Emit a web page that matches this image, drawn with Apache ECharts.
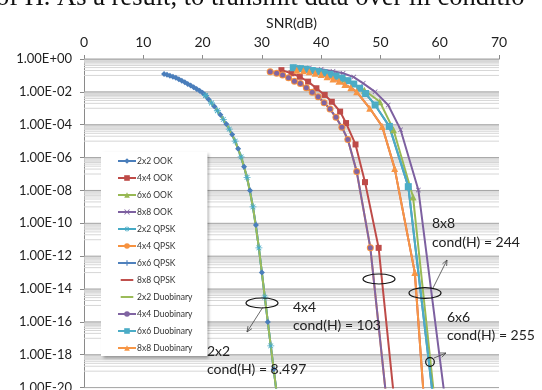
<!DOCTYPE html>
<html>
<head>
<meta charset="utf-8">
<script src="https://cdn.jsdelivr.net/npm/echarts@6/dist/echarts.min.js"></script>
<style>
html, body { margin: 0; padding: 0; background: #fff; }
#chart { width: 542px; height: 390px; }
</style>
</head>
<body>
<div id="chart"></div>
<script>
// BER vs SNR: [SNR (dB), BER]
var ook2x2 = [[13.5,1.23e-1],[14,1.1e-1],[14.5,9.5e-2],[15,8.3e-2],[15.5,7.1e-2],[16,5.9e-2],[16.5,4.8e-2],
    [17,3.8e-2],[17.5,3.0e-2],[18,2.4e-2],[18.5,1.9e-2],[19,1.5e-2],[19.5,1.15e-2],[20,8.9e-3],[20.5,6.0e-3],
    [21,3.5e-3],[22,1.3e-3],[23,4.0e-4],[24,1.1e-4],[25,2.5e-5],[26,3.5e-6],[27,2.8e-7],[28,1.0e-8],
    [29,7.9e-11],[30,1.0e-13],[31,1.0e-16],[32,1.3e-19],[33,1.6e-22]];
var ook4x4 = [[33.3,2.1e-1],[35,1.35e-1],[36.4,8.3e-2],[37.8,4.2e-2],[39.2,1.66e-2],[40.6,6.5e-3],[41.8,2.5e-3],
    [43.2,6.3e-4],[44.2,1.26e-4],[45.8,6.3e-6],[47.4,3.2e-8],[49.7,3.2e-12],[52.4,1e-21]];
var ook6x6 = [[36,2.8e-1],[40,1.7e-1],[44,6.0e-2],[47.3,1.26e-2],[49.9,2.5e-3],[52.2,5.0e-5],[55.5,4.0e-9],[59.2,1e-21]];
var ook8x8 = [[36,3.2e-1],[38,2.8e-1],[40,2.35e-1],[42,1.8e-1],[43.7,1.35e-1],[45.5,7.9e-2],[47.1,3.3e-2],
    [49.1,1.0e-2],[51.3,1.6e-3],[53.4,5.0e-5],[56.4,1.07e-8],[61,1e-21]];
var duo2x2 = [[20.5,6.0e-3],[21.5,2.1e-3],[22.5,7.1e-4],[23.5,2.1e-4],[24.5,5.4e-5],[25.5,1.0e-5],[26.5,1.1e-6],
    [27.5,6.3e-8],[28.5,1.0e-9],[29.5,3.2e-12],[30.5,3.2e-15],[31.5,3.5e-18],[32.5,4.5e-21]];
var duo4x4 = [[31.4,1.7e-1],[32.5,1.38e-1],[33.5,1.07e-1],[34.5,7.1e-2],[35.5,4.5e-2],[36.5,3.2e-2],[37.5,1.8e-2],
    [38.5,9.5e-3],[39.5,5.0e-3],[40.5,2.2e-3],[41.5,8.9e-4],[42.5,2.8e-4],[43.5,7.1e-5],[44.5,1.26e-5],
    [46,1.4e-7],[48.3,3.2e-12],[51.1,1e-21]];
var duo6x6 = [[35.3,2.95e-1],[36.5,2.6e-1],[37.5,2.35e-1],[38.5,2.0e-1],[39.5,1.74e-1],[40.5,1.45e-1],[41.5,1.17e-1],
    [42.5,9.1e-2],[43.5,6.9e-2],[44.5,4.8e-2],[45.5,3.0e-2],[46.5,1.66e-2],[47.5,7.9e-3],[49.1,1.6e-3],
    [51.5,7.9e-5],[54.7,1.7e-8],[59,1e-21]];
var duo8x8 = [[35.9,2.1e-1],[37,1.9e-1],[38,1.66e-1],[39,1.38e-1],[40,1.12e-1],[41,8.3e-2],[42,6.0e-2],[43,4.4e-2],
    [44,2.8e-2],[45,1.8e-2],[46,1.0e-2],[48.2,1.0e-3],[50.3,7.9e-5],[52.4,2.2e-7],[55.8,1.0e-13],[57.4,1e-21]];
// QPSK curves lie under the duobinary ones in the figure
var qpsk2x2 = duo2x2;
var qpsk4x4 = duo4x4;
var qpsk6x6 = duo6x6;
var qpsk8x8 = duo8x8;

var snrTicks = [0, 10, 20, 30, 40, 50, 60, 70];
var berTicks = [1, 1e-2, 1e-4, 1e-6, 1e-8, 1e-10, 1e-12, 1e-14, 1e-16, 1e-18, 1e-20];

var PLUS = 'path://M4,0H6V4H10V6H6V10H4V6H0V4H4Z';
var CROSS = 'path://M1,0L5,4L9,0L10,1L6,5L10,9L9,10L5,6L1,10L0,9L4,5L0,1Z';
var STAR = 'path://M4.4,0H5.6V10H4.4Z M0,4.4H10V5.6H0Z M1.2,2L2,1.2L8.8,8L8,8.8Z M8,1.2L8.8,2L2,8.8L1.2,8Z';
var BAR = 'path://M0,0L0,0.01M0,3.5H18V6.5H0ZM18,10L18,9.99';

var defs = [
    {name: '2x2 OOK', data: ook2x2, color: '#4A7EBB', symbol: 'diamond', size: 6},
    {name: '4x4 OOK', data: ook4x4, color: '#BE4B48', symbol: 'rect', size: 6},
    {name: '6x6 OOK', data: ook6x6, color: '#98B954', symbol: 'triangle', size: 7},
    {name: '8x8 OOK', data: ook8x8, color: '#7D60A0', symbol: CROSS, size: 5},
    {name: '2x2 QPSK', data: qpsk2x2, color: '#46AAC5', symbol: STAR, size: 7},
    {name: '4x4 QPSK', data: qpsk4x4, color: '#F69240', symbol: 'circle', size: 7},
    {name: '6x6 QPSK', data: qpsk6x6, color: '#4F81BD', symbol: PLUS, size: 6},
    {name: '8x8 QPSK', data: qpsk8x8, color: '#C0504D', symbol: 'none', size: 0},
    {name: '2x2 Duobinary', data: duo2x2, color: '#9BBB59', symbol: 'none', size: 0},
    {name: '4x4 Duobinary', data: duo4x4, color: '#8064A2', symbol: 'circle', size: 5},
    {name: '6x6 Duobinary', data: duo6x6, color: '#4BACC6', symbol: 'rect', size: 7},
    {name: '8x8 Duobinary', data: duo8x8, color: '#F79646', symbol: 'triangle', size: 7}
];

// light minor grid lines of the log axis (10..90 % of each major step)
var minorLines = [];
for (var e = 1; e < 20; e += 2) {
    for (var k = 1; k <= 9; k++) {
        minorLines.push([0, k * Math.pow(10, -e)]);
    }
}

// horizontal grid lines, placed through the y axis
function gridSeries(name, values, color) {
    return {
        name: name,
        type: 'custom',
        silent: true,
        z: 1,
        data: values,
        renderItem: function (params, api) {
            var cs = params.coordSys;
            var y = api.coord([0, api.value(1)])[1];
            return {
                type: 'line',
                shape: {x1: cs.x, y1: y, x2: cs.x + cs.width, y2: y},
                style: {stroke: color, lineWidth: 1}
            };
        }
    };
}

var series = [
    gridSeries('minor', minorLines, '#d6d6d6'),
    gridSeries('major', berTicks.map(function (v) { return [0, v]; }), '#a3a3a3')
];
defs.forEach(function (d) {
    series.push({
        name: d.name,
        type: 'line',
        data: d.data,
        symbol: d.symbol,
        symbolSize: d.size,
        showSymbol: d.symbol !== 'none',
        lineStyle: {width: 2, color: d.color},
        itemStyle: {color: d.color},
        z: 2
    });
});

function arrow(x1, y1, x2, y2) {
    var a = Math.atan2(y2 - y1, x2 - x1), h = 6, s = 0.4;
    return [{
        type: 'line', z: 10,
        shape: {x1: x1, y1: y1, x2: x2, y2: y2},
        style: {stroke: '#444', lineWidth: 0.8}
    }, {
        type: 'polyline', z: 10,
        shape: {points: [[x2 - h * Math.cos(a - s), y2 - h * Math.sin(a - s)], [x2, y2],
            [x2 - h * Math.cos(a + s), y2 - h * Math.sin(a + s)]]},
        style: {stroke: '#444', fill: null, lineWidth: 0.8}
    }];
}
function ellipse(cx, cy, rx, ry) {
    return {type: 'ellipse', z: 10, shape: {cx: cx, cy: cy, rx: rx, ry: ry},
        style: {fill: null, stroke: '#111', lineWidth: 1.2}};
}
function note(x, y, text) {
    return {type: 'text', z: 10, x: x, y: y,
        style: {text: text, fill: '#222', font: '14px Lato', verticalAlign: 'middle'}};
}

var graphics = [
    {type: 'text', x: -4, y: 12, z: 10,
        style: {text: 'of H. As a result, to transmit data over ill conditio', fill: '#111',
            font: '26.5px "Liberation Serif"', verticalAlign: 'bottom'}},
    ellipse(262, 303, 16, 5),
    ellipse(379, 279, 16, 5),
    ellipse(425, 293, 16, 5.3),
    {type: 'circle', z: 10, shape: {cx: 430, cy: 362, r: 4.3}, style: {fill: null, stroke: '#111', lineWidth: 1.2}},
    note(293, 307, '4x4'),
    note(293, 325, 'cond(H) = 103'),
    note(207, 351, '2x2'),
    note(207, 369, 'cond(H) = 8.497'),
    note(432, 223, '8x8'),
    note(432, 242, 'cond(H) = 244'),
    note(447, 317, '6x6'),
    note(447, 335, 'cond(H) = 255')
].concat(arrow(263, 307, 247, 332), arrow(433, 288, 447, 260), arrow(434, 358, 446, 353));

var chart = echarts.init(document.getElementById('chart'));
chart.setOption({
    animation: false,
    backgroundColor: '#fff',
    textStyle: {fontFamily: 'Lato'},
    grid: {left: 84, right: 43, top: 59, bottom: 2.4, outerBoundsMode: 'none'},
    legend: {
        orient: 'vertical',
        left: 101,
        top: 152,
        data: defs.map(function (d) {
            return d.symbol === 'none' ? {name: d.name, icon: BAR} : d.name;
        }),
        itemWidth: 18,
        itemHeight: 7,
        itemGap: 7,
        padding: [4, 15, 3, 16],
        backgroundColor: '#fff',
        shadowColor: 'rgba(0,0,0,0.35)',
        shadowBlur: 3,
        shadowOffsetX: 2,
        shadowOffsetY: 2,
        textStyle: {fontSize: 8.5, color: '#333', lineHeight: 10, padding: [0, 0, 0, -4]},
        z: 5
    },
    xAxis: {
        type: 'value',
        position: 'top',
        min: snrTicks[0],
        max: snrTicks[snrTicks.length - 1],
        interval: 10,
        name: 'SNR(dB)',
        nameLocation: 'middle',
        nameGap: 23,
        nameTextStyle: {fontSize: 14, color: '#1f1f1f'},
        axisLine: {lineStyle: {color: '#8a8a8a'}},
        axisTick: {length: 4, lineStyle: {color: '#8a8a8a'}},
        axisLabel: {fontSize: 14, color: '#1f1f1f', margin: 10},
        splitLine: {show: false}
    },
    yAxis: {
        type: 'log',
        logBase: 10,
        min: berTicks[berTicks.length - 1],
        max: berTicks[0],
        axisLine: {show: true, lineStyle: {color: '#8a8a8a'}},
        axisTick: {show: true, length: 4, customValues: berTicks, lineStyle: {color: '#8a8a8a'}},
        axisLabel: {
            fontSize: 13, color: '#1f1f1f', margin: 12,
            customValues: berTicks,
            formatter: function (v) {
                var p = Math.round(Math.log10(v)), s = Math.abs(p);
                return '1.00E' + (p < 0 ? '-' : '+') + (s < 10 ? '0' : '') + s;
            }
        },
        splitLine: {show: false}
    },
    series: series,
    graphic: graphics
});
</script>
</body>
</html>
